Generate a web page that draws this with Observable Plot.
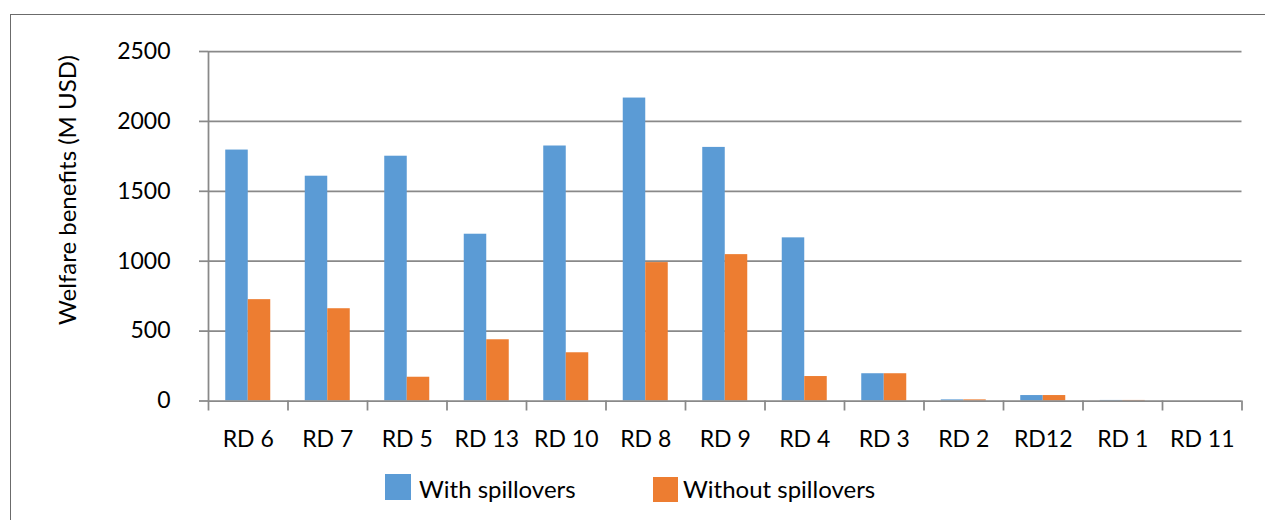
<!DOCTYPE html>
<html><head><meta charset="utf-8">
<script src="https://cdn.jsdelivr.net/npm/d3@7"></script>
<script src="https://cdn.jsdelivr.net/npm/@observablehq/plot@0.6"></script>
<style>
html,body{margin:0;padding:0;background:#fff;overflow:hidden;width:1265px;height:520px;}
#wrap{position:relative;width:1265px;height:520px;font-family:Lato,sans-serif;color:#000;}
#border{position:absolute;left:10px;top:14px;width:1300px;height:600px;border:1.5px solid #6b6b6b;box-sizing:border-box;}
#chart{position:absolute;left:0;top:0;}
#ytitle{position:absolute;left:66px;top:190px;transform:translate(-50%,-50%) rotate(-90deg);white-space:nowrap;font-size:24px;}
.sw{position:absolute;}
.lt{position:absolute;font-size:24px;line-height:26px;white-space:nowrap;}
</style></head><body>
<div id="wrap">
  <div id="border"></div>
  <div id="chart"></div>
  <div id="ytitle">Welfare benefits (M USD)</div>
  <div id="legend"></div>
</div>
<script>
const categories = ["RD 6","RD 7","RD 5","RD 13","RD 10","RD 8","RD 9","RD 4","RD 3","RD 2","RD12","RD 1","RD 11"];
const seriesNames = ["With spillovers","Without spillovers"];
const withSpillovers    = [1795, 1608, 1751, 1193, 1824, 2167, 1814, 1167, 195, 8, 39, 4, 0];
const withoutSpillovers = [725, 660, 170, 438, 345, 990, 1047, 175, 195, 8, 39, 4, 0];
const yTicks = [0, 500, 1000, 1500, 2000, 2500];
const colors = ["#5B9BD5", "#ED7D31"];

const data = categories.flatMap((c, i) => [
  {cat: c, i, series: seriesNames[0], value: withSpillovers[i]},
  {cat: c, i, series: seriesNames[1], value: withoutSpillovers[i]}
]);

const W = 0.283; // bar width in band units
const grid = "#898989";

const chart = Plot.plot({
  width: 1265, height: 460,
  marginLeft: 208, marginRight: 23.5, marginTop: 51, marginBottom: 59.5,
  style: {fontFamily: "Lato, sans-serif", fontSize: "23px", color: "#000", background: "transparent", overflow: "visible"},
  x: {domain: [-0.5, categories.length - 0.5]},
  y: {domain: [0, 2500]},
  color: {domain: seriesNames, range: colors},
  marks: [
    Plot.ruleY(yTicks.filter(d => d > 0), {stroke: grid, strokeWidth: 1.75}),
    Plot.rectY(data, {
      x1: d => d.series === seriesNames[0] ? d.i - W : d.i,
      x2: d => d.series === seriesNames[0] ? d.i : d.i + W,
      y: "value", fill: "series"
    }),
    Plot.ruleY([0], {stroke: grid, strokeWidth: 1.75}),
    Plot.ruleX([-0.5], {stroke: grid, strokeWidth: 1.75}),
    Plot.axisY({ticks: yTicks, tickSize: 9, tickPadding: 29, tickFormat: d => String(d), stroke: grid, strokeWidth: 1.75, fill: "#000", fontSize: 23, label: null}),
    Plot.axisX({ticks: d3.range(-0.5, categories.length, 1), tickSize: 10, tickFormat: () => "", stroke: grid, strokeWidth: 1.75, label: null}),
    Plot.axisX({ticks: d3.range(categories.length), tickSize: 0, tickPadding: 29.5, tickFormat: i => categories[i], fill: "#000", fontSize: 23, label: null})
  ]
});
document.getElementById("chart").appendChild(chart);

const legend = document.getElementById("legend");
const legPos = [{sx: 385, sy: 474, s: 26, tx: 419}, {sx: 653, sy: 476.5, s: 25, tx: 683}];
seriesNames.forEach((name, k) => {
  const p = legPos[k];
  const sw = document.createElement("div");
  sw.className = "sw";
  Object.assign(sw.style, {left: p.sx + "px", top: p.sy + "px", width: p.s + "px", height: p.s + "px", background: colors[k]});
  legend.appendChild(sw);
  const t = document.createElement("div");
  t.className = "lt";
  Object.assign(t.style, {left: p.tx + "px", top: "476px"});
  t.textContent = name;
  legend.appendChild(t);
});
</script>
</body></html>
